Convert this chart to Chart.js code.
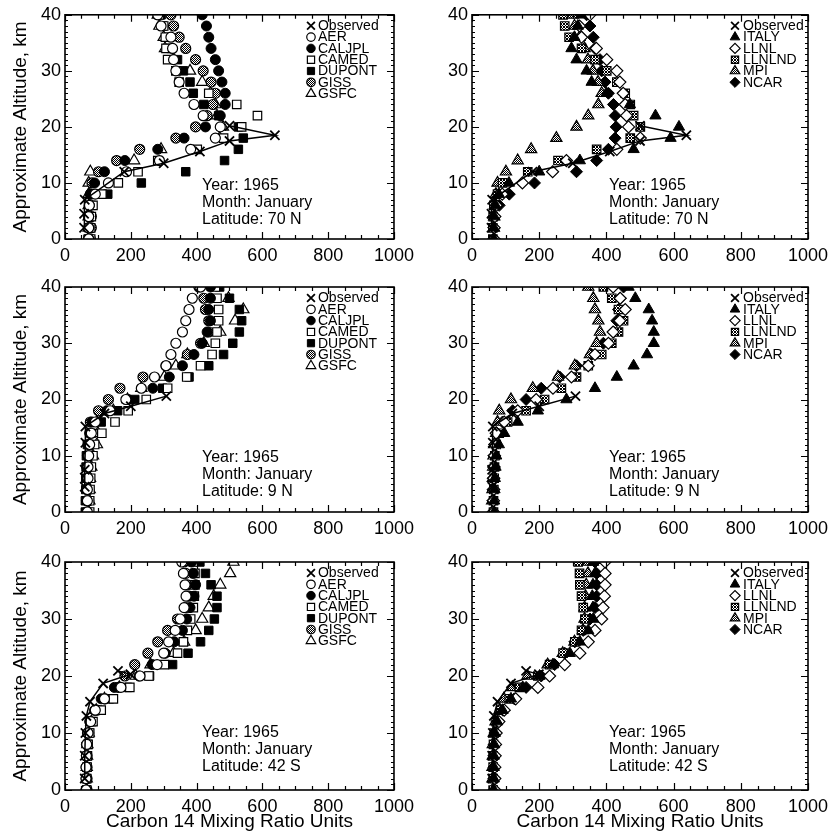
<!DOCTYPE html>
<html>
<head>
<meta charset="utf-8">
<script src="https://cdn.jsdelivr.net/npm/chart.js@4.4.0/dist/chart.umd.min.js"></script>
<style>
  body { margin: 0; background: #fff; }
  #wrap { position: relative; width: 836px; height: 837px; background: #fff; }
  #wrap canvas { position: absolute; }
</style>
</head>
<body>
<div id="wrap"></div>
<script>
// model levels, km
const altitudeLevels = [0, 2, 4, 6, 8, 10, 12, 14, 16, 18, 20, 22, 24, 26, 28, 30, 32, 34, 36, 38, 40]

const xTickValues = [0, 200, 400, 600, 800, 1000]
const yTickValues = [0, 10, 20, 30, 40]

// observed profiles (value, altitude)
const observed70NValue = [58, 58, 60, 180, 300, 410, 500, 638, 500]
const observed70NAltitude = [2, 4.5, 7, 12, 13.5, 15.6, 17.5, 18.5, 20.2]
const observed9NValue = [60, 60, 62, 62, 120, 200, 308]
const observed9NAltitude = [4.5, 7.5, 12.3, 15.2, 17.5, 18.8, 20.6]
const observed42SValue = [60, 60, 62, 65, 76, 116, 199, 161]
const observed42SAltitude = [2, 6, 10, 13, 15.5, 18.7, 20.3, 20.9]

// 70 N
const aer70N = [72, 72, 72, 74, 92, 132, 187, 287, 382, 457, 472, 420, 392, 362, 347, 337, 330, 327, 322, 292, 282]
const caljpl70N = [72, 72, 72, 74, 78, 90, 120, 182, 282, 362, 427, 472, 487, 487, 477, 467, 457, 444, 437, 430, 417]
const camed70N = [78, 78, 80, 85, 112, 162, 222, 282, 402, 482, 537, 585, 522, 437, 347, 337, 312, 307, 305, 300, 287]
const dupont70N = [70, 72, 75, 80, 130, 232, 367, 485, 527, 542, 527, 467, 422, 390, 380, 360, 342, 322, 312, 297, 292]
const giss70N = [77, 80, 80, 77, 77, 82, 102, 157, 227, 337, 397, 432, 450, 457, 444, 420, 397, 367, 347, 330, 322]
const gsfc70N = [70, 72, 72, 72, 72, 72, 77, 210, 292, 470, 480, 462, 457, 442, 417, 380, 330, 304, 300, 287, 282]
const italy70N = [65, 65, 66, 70, 80, 110, 200, 321, 481, 591, 616, 546, 470, 400, 356, 341, 311, 296, 305, 315, 325]
const llnl70N = [66, 66, 68, 72, 90, 150, 240, 281, 431, 501, 466, 460, 456, 450, 440, 431, 401, 370, 326, 320, 351]
const llnlnd70N = [62, 62, 63, 65, 76, 91, 166, 256, 371, 471, 501, 481, 471, 456, 431, 401, 366, 326, 289, 276, 271]
const mpi70N = [65, 65, 66, 68, 71, 76, 101, 136, 176, 251, 311, 346, 376, 386, 375, 360, 345, 335, 320, 305, 300]
const ncar70N = [65, 65, 65, 81, 111, 186, 311, 371, 406, 426, 429, 426, 421, 406, 396, 386, 381, 366, 361, 351, 341]

// 9 N
const aer9N = [68, 68, 68, 70, 70, 72, 75, 80, 92, 137, 185, 232, 272, 307, 322, 337, 357, 367, 377, 387, 412]
const caljpl9N = [65, 65, 65, 66, 66, 68, 70, 75, 82, 127, 192, 267, 317, 357, 392, 417, 432, 442, 437, 442, 442]
const camed9N = [75, 75, 76, 78, 80, 85, 90, 112, 152, 192, 247, 312, 370, 412, 447, 457, 462, 467, 467, 462, 457]
const dupont9N = [62, 62, 63, 63, 64, 65, 68, 80, 110, 160, 212, 297, 377, 437, 482, 510, 530, 537, 530, 500, 470]
const giss9N = [70, 72, 72, 72, 72, 74, 76, 77, 77, 102, 132, 167, 237, 307, 372, 412, 437, 437, 427, 422, 407]
const gsfc9N = [72, 74, 75, 76, 80, 85, 97, 100, 97, 147, 190, 232, 302, 337, 372, 422, 472, 517, 542, 497, 450]
const italy9N = [66, 66, 67, 68, 70, 72, 80, 96, 136, 196, 281, 366, 431, 481, 521, 541, 541, 536, 526, 486, 466]
const llnl9N = [64, 64, 65, 65, 66, 67, 68, 72, 96, 136, 191, 241, 296, 346, 366, 406, 420, 440, 456, 441, 420]
const llnlnd9N = [64, 64, 65, 66, 67, 68, 72, 81, 106, 161, 216, 266, 311, 346, 386, 416, 436, 451, 436, 416, 391]
const mpi9N = [60, 60, 61, 62, 63, 64, 66, 72, 76, 81, 116, 181, 256, 306, 351, 371, 381, 376, 366, 361, 346]
const ncar9N = [62, 62, 63, 63, 64, 65, 68, 75, 91, 121, 161, 206, 261, 311, 356, 391, 421, 431, 436, 441, 451]

// 42 S
const aer42S = [64, 64, 64, 65, 66, 70, 78, 92, 120, 170, 228, 280, 300, 315, 335, 350, 362, 368, 365, 360, 355]
const caljpl42S = [64, 64, 64, 65, 65, 68, 75, 90, 110, 150, 225, 265, 305, 332, 357, 370, 380, 392, 397, 390, 385]
const camed42S = [66, 66, 67, 68, 70, 75, 85, 110, 147, 197, 255, 302, 342, 360, 372, 382, 390, 393, 395, 395, 390]
const dupont42S = [66, 66, 67, 68, 70, 74, 82, 100, 135, 190, 257, 327, 374, 412, 437, 454, 462, 462, 444, 427, 410]
const giss42S = [67, 67, 67, 67, 67, 72, 77, 97, 122, 162, 182, 212, 252, 282, 312, 342, 367, 377, 372, 367, 362]
const gsfc42S = [66, 66, 66, 67, 68, 72, 80, 95, 120, 165, 215, 260, 330, 362, 397, 417, 437, 452, 472, 502, 512]
const italy42S = [65, 65, 65, 65, 66, 68, 75, 91, 116, 151, 201, 241, 291, 321, 346, 361, 360, 358, 360, 366, 361]
const llnl42S = [68, 68, 68, 69, 70, 72, 80, 96, 130, 196, 231, 276, 321, 346, 366, 386, 390, 394, 396, 396, 396]
const llnlnd42S = [63, 63, 63, 63, 64, 66, 72, 86, 111, 141, 196, 231, 271, 306, 326, 336, 331, 326, 321, 320, 316]
const mpi42S = [61, 61, 61, 62, 62, 65, 70, 82, 95, 120, 165, 225, 270, 305, 330, 335, 335, 338, 340, 345, 345]
const ncar42S = [65, 65, 65, 65, 66, 68, 75, 92, 126, 161, 206, 246, 276, 306, 331, 351, 366, 371, 371, 371, 366]

const family = "'Liberation Sans', Arial, Helvetica, sans-serif"

// stipple / checker fills
const makePattern = (size, cells) => {
    const c = document.createElement('canvas')
    c.width = size
    c.height = size
    const g = c.getContext('2d')
    g.fillStyle = '#fff'
    g.fillRect(0, 0, size, size)
    g.fillStyle = '#000'
    cells.forEach(([cx, cy]) => g.fillRect(cx, cy, 1, 1))
    return g.createPattern(c, 'repeat')
}
const stipple = makePattern(2, [[0, 0], [1, 1]])
const checker = makePattern(3, [[0, 0], [2, 0], [1, 1], [0, 2], [2, 2]])

const styles = {
    Observed: { pointStyle: 'crossRot', radius: 6.5, bg: '#000', bw: 1.8 },
    AER: { pointStyle: 'circle', radius: 5, bg: '#fff', bw: 1.2 },
    CALJPL: { pointStyle: 'circle', radius: 5, bg: '#000', bw: 1 },
    CAMED: { pointStyle: 'rect', radius: 6, bg: '#fff', bw: 1.2 },
    DUPONT: { pointStyle: 'rect', radius: 6, bg: '#000', bw: 1 },
    GISS: { pointStyle: 'circle', radius: 5, bg: stipple, bw: 1.2 },
    GSFC: { pointStyle: 'triangle', radius: 6.5, bg: '#fff', bw: 1.2 },
    ITALY: { pointStyle: 'triangle', radius: 6.5, bg: '#000', bw: 1 },
    LLNL: { pointStyle: 'rectRot', radius: 6, bg: '#fff', bw: 1.2 },
    LLNLND: { pointStyle: 'rect', radius: 6, bg: checker, bw: 1.2 },
    MPI: { pointStyle: 'triangle', radius: 6.5, bg: stipple, bw: 1.2 },
    NCAR: { pointStyle: 'rectRot', radius: 6, bg: '#000', bw: 1 }
}

const toPoints = (values, alts) => values.map((v, i) => ({ x: v, y: alts[i] }))

const panels = [
    { col: 0, row: 0, latitude: '70 N', observed: [observed70NValue, observed70NAltitude],
      models: [['AER', aer70N], ['CALJPL', caljpl70N], ['CAMED', camed70N], ['DUPONT', dupont70N], ['GISS', giss70N], ['GSFC', gsfc70N]] },
    { col: 1, row: 0, latitude: '70 N', observed: [observed70NValue, observed70NAltitude],
      models: [['ITALY', italy70N], ['LLNL', llnl70N], ['LLNLND', llnlnd70N], ['MPI', mpi70N], ['NCAR', ncar70N]] },
    { col: 0, row: 1, latitude: '9 N', observed: [observed9NValue, observed9NAltitude],
      models: [['AER', aer9N], ['CALJPL', caljpl9N], ['CAMED', camed9N], ['DUPONT', dupont9N], ['GISS', giss9N], ['GSFC', gsfc9N]] },
    { col: 1, row: 1, latitude: '9 N', observed: [observed9NValue, observed9NAltitude],
      models: [['ITALY', italy9N], ['LLNL', llnl9N], ['LLNLND', llnlnd9N], ['MPI', mpi9N], ['NCAR', ncar9N]] },
    { col: 0, row: 2, latitude: '42 S', observed: [observed42SValue, observed42SAltitude],
      models: [['AER', aer42S], ['CALJPL', caljpl42S], ['CAMED', camed42S], ['DUPONT', dupont42S], ['GISS', giss42S], ['GSFC', gsfc42S]] },
    { col: 1, row: 2, latitude: '42 S', observed: [observed42SValue, observed42SAltitude],
      models: [['ITALY', italy42S], ['LLNL', llnl42S], ['LLNLND', llnlnd42S], ['MPI', mpi42S], ['NCAR', ncar42S]] }
]

const cols = [
    { left: 0, width: 420, yWidth: 65, padRight: 19, legendSym: 83, legendText: 76 },
    { left: 420, width: 416, yWidth: 52, padRight: 28, legendSym: 73, legendText: 65 }
]
const rows = [
    { top: 0, height: 270, padTop: 13, xHeight: 31 },
    { top: 272, height: 270, padTop: 15, xHeight: 30 },
    { top: 547, height: 290, padTop: 15, xHeight: 47 }
]

// frame with inward ticks on all four sides
const framePlugin = {
    id: 'frame',
    afterDatasetsDraw(chart) {
        const { ctx, chartArea: a, scales: { x, y } } = chart
        ctx.save()
        ctx.strokeStyle = '#000'
        ctx.lineWidth = 1.6
        ctx.strokeRect(a.left, a.top, a.right - a.left, a.bottom - a.top)
        ctx.lineWidth = 1.2
        ctx.beginPath()
        for (let v = 0; v <= 1000; v += 50) {
            const px = Math.round(x.getPixelForValue(v)) + 0.5
            const len = v % 200 === 0 ? 7 : 4
            ctx.moveTo(px, a.bottom); ctx.lineTo(px, a.bottom - len)
            ctx.moveTo(px, a.top); ctx.lineTo(px, a.top + len)
        }
        for (let v = 0; v <= 40; v += 1) {
            const py = Math.round(y.getPixelForValue(v)) + 0.5
            const len = v % 10 === 0 ? 7 : 3
            ctx.moveTo(a.left, py); ctx.lineTo(a.left + len, py)
            ctx.moveTo(a.right, py); ctx.lineTo(a.right - len, py)
        }
        ctx.stroke()
        ctx.restore()
    }
}

// legend in the upper right, plus the year/month/latitude note
const notesPlugin = {
    id: 'notes',
    afterDraw(chart, args, opts) {
        const { ctx, chartArea: a } = chart
        ctx.save()
        ctx.fillStyle = '#000'
        ctx.textBaseline = 'middle'
        ctx.textAlign = 'left'
        ctx.font = '14px ' + family
        chart.data.datasets.forEach((ds, i) => {
            const sy = a.top + 11 + i * 11.3
            const sx = a.right - opts.sym
            ctx.fillStyle = ds.pointBackgroundColor
            ctx.strokeStyle = '#000'
            ctx.lineWidth = ds.pointBorderWidth
            Chart.helpers.drawPoint(ctx, {
                pointStyle: ds.pointStyle, rotation: 0,
                radius: ds.pointRadius * 0.85, borderWidth: ds.pointBorderWidth
            }, sx, sy)
            ctx.fillStyle = '#000'
            ctx.fillText(ds.label, a.right - opts.text, sy + 0.5)
        })
        ctx.font = '16px ' + family
        opts.lines.forEach((line, i) => {
            ctx.fillText(line, a.left + 137, a.top + 171 + i * 17)
        })
        ctx.restore()
    }
}

const wrap = document.getElementById('wrap')

panels.forEach(p => {
    const col = cols[p.col]
    const row = rows[p.row]
    const canvas = document.createElement('canvas')
    canvas.width = col.width
    canvas.height = row.height
    canvas.style.left = col.left + 'px'
    canvas.style.top = row.top + 'px'
    wrap.appendChild(canvas)

    const series = [['Observed', toPoints(p.observed[0], p.observed[1])]]
        .concat(p.models.map(([name, values]) => [name, toPoints(values, altitudeLevels)]))

    const datasets = series.map(([name, points]) => {
        const s = styles[name]
        return {
            label: name,
            data: points,
            showLine: name === 'Observed',
            borderColor: '#000',
            borderWidth: 1.5,
            pointStyle: s.pointStyle,
            pointRadius: s.radius,
            pointBackgroundColor: s.bg,
            pointBorderColor: '#000',
            pointBorderWidth: s.bw
        }
    })

    new Chart(canvas, {
        type: 'scatter',
        data: { datasets },
        options: {
            responsive: false,
            animation: false,
            events: [],
            layout: { padding: { top: row.padTop, right: col.padRight, left: 0, bottom: 0 } },
            plugins: {
                legend: { display: false },
                tooltip: { enabled: false },
                notes: {
                    sym: col.legendSym, text: col.legendText,
                    lines: ['Year: 1965', 'Month: January', 'Latitude: ' + p.latitude]
                }
            },
            scales: {
                x: {
                    type: 'linear', min: 0, max: 1000,
                    afterBuildTicks: s => { s.ticks = xTickValues.map(v => ({ value: v })) },
                    afterFit: s => { s.height = row.xHeight },
                    grid: { display: false, drawTicks: false },
                    border: { display: false },
                    ticks: {
                        autoSkip: false, maxRotation: 0, padding: 6, color: '#000',
                        font: { family, size: 18 }, callback: v => String(v)
                    },
                    title: {
                        display: p.row === 2, text: 'Carbon 14 Mixing Ratio Units',
                        color: '#000', font: { family, size: 19 }, padding: { top: 0, bottom: 4 }
                    }
                },
                y: {
                    type: 'linear', min: 0, max: 40,
                    afterBuildTicks: s => { s.ticks = yTickValues.map(v => ({ value: v })) },
                    afterFit: s => { s.width = col.yWidth },
                    grid: { display: false, drawTicks: false },
                    border: { display: false },
                    ticks: { padding: 4, color: '#000', font: { family, size: 18 }, callback: v => String(v) },
                    title: {
                        display: p.col === 0, text: 'Approximate Altitude, km',
                        color: '#000', font: { family, size: 19 }, padding: { top: 9, bottom: 0 }
                    }
                }
            }
        },
        plugins: [framePlugin, notesPlugin]
    })
})
</script>
</body>
</html>
